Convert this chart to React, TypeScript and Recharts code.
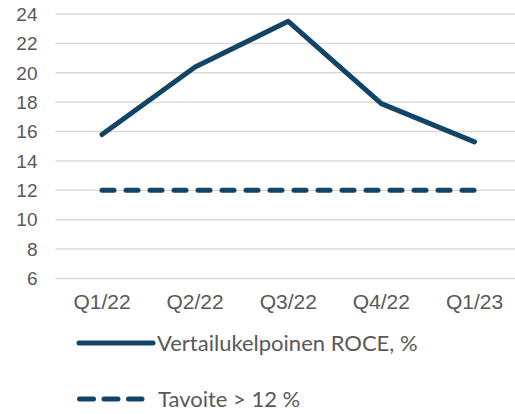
import React from "react";
import { LineChart, Line, XAxis, YAxis, CartesianGrid, Legend } from "recharts";

const categories = ["Q1/22", "Q2/22", "Q3/22", "Q4/22", "Q1/23"];
const roceValues = [15.8, 20.4, 23.5, 17.9, 15.3];
const targetValues = [12, 12, 12, 12, 12];
const yTicks = [6, 8, 10, 12, 14, 16, 18, 20, 22, 24];
const roceName = "Vertailukelpoinen ROCE, %";
const targetName = "Tavoite > 12 %";

const data = categories.map((c, i) => ({ name: c, roce: roceValues[i], target: targetValues[i] }));

const COLOR = "#124468";
const TEXT = "#595959";

const LegendContent = () => {
  return (
    <svg width={515} height={104} style={{ display: "block", overflow: "visible" }}>
      <line x1={79} y1={37} x2={153} y2={37} stroke={COLOR} strokeWidth={5} strokeLinecap="round" />
      <text x={157} y={37} dy="0.35em" fill={TEXT} fontSize={22} fontFamily="Lato, 'Open Sans', sans-serif">
        {roceName}
      </text>
      <line x1={79.5} y1={93} x2={142} y2={93} stroke={COLOR} strokeWidth={5} strokeLinecap="round" strokeDasharray="14 10.5" />
      <text x={158} y={93} dy="0.35em" fill={TEXT} fontSize={22} fontFamily="Lato, 'Open Sans', sans-serif">
        {targetName}
      </text>
    </svg>
  );
};

export default function App() {
  return (
    <div style={{ position: "absolute", left: 0, top: 0, width: 515, height: 414, overflow: "hidden", background: "#fff" }}>
      <LineChart width={521} height={414} data={data} margin={{ top: 14, right: 0, bottom: 105.5, left: 0 }}>
        <CartesianGrid horizontal vertical={false} stroke="#d9d9d9" strokeWidth={1.5} />
        <XAxis
          dataKey="name"
          axisLine={false}
          tickLine={false}
          tickSize={0}
          tickMargin={16}
          height={30}
          interval={0}
          padding={{ left: 46.5, right: 46.5 }}
          tick={{ fill: TEXT, fontSize: 21, fontFamily: "'Liberation Sans', Arial, sans-serif" }}
        />
        <YAxis
          domain={[6, 24]}
          ticks={yTicks}
          axisLine={false}
          tickLine={false}
          tickSize={0}
          tickMargin={18}
          width={55.5}
          interval={0}
          tick={{ fill: TEXT, fontSize: 19, fontFamily: "'Liberation Sans', Arial, sans-serif" }}
        />
        <Legend
          layout="horizontal"
          verticalAlign="middle"
          align="center"
          wrapperStyle={{ position: "absolute", top: 306, left: 0, width: 515, height: 104 }}
          content={<LegendContent />}
        />
        <Line
          type="linear"
          dataKey="roce"
          name={roceName}
          stroke={COLOR}
          strokeWidth={5}
          strokeLinecap="round"
          strokeLinejoin="round"
          dot={false}
          activeDot={false}
          isAnimationActive={false}
        />
        <Line
          type="linear"
          dataKey="target"
          name={targetName}
          stroke={COLOR}
          strokeWidth={5}
          strokeLinecap="round"
          strokeDasharray="12 12"
          dot={false}
          activeDot={false}
          isAnimationActive={false}
        />
      </LineChart>
    </div>
  );
}
